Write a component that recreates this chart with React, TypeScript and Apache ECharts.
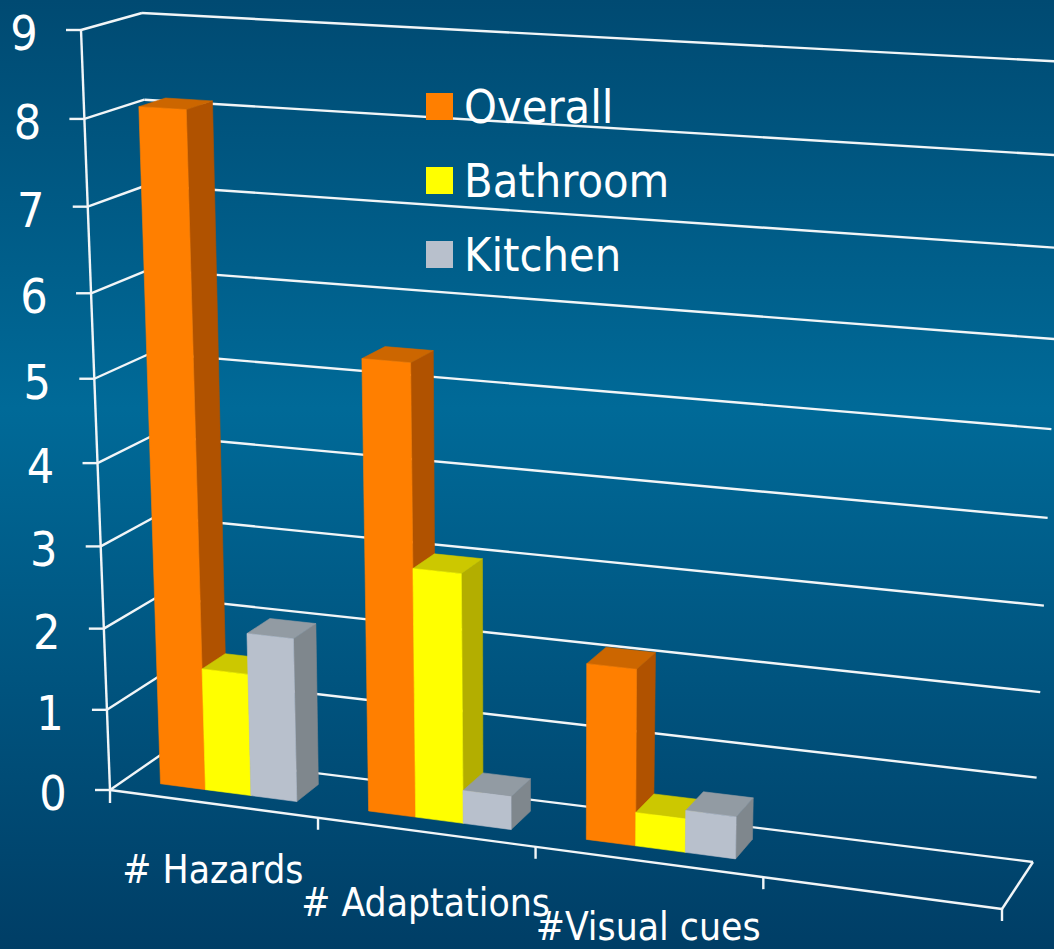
import React, { useEffect, useRef } from "react";
import * as echarts from "echarts";

// Chart content
const categories = ["# Hazards", "# Adaptations", "#Visual cues", ""];
const labelledCategories = [0, 1, 2];
const valueTicks = [0, 1, 2, 3, 4, 5, 6, 7, 8, 9];
const seriesNames = ["Overall", "Bathroom", "Kitchen"];
const overall = [8.1, 5.4, 2.1];
const bathroom = [1.5, 3.0, 0.4];
const kitchen = [2.0, 0.4, 0.5];

// Face shades per series: front, top, side
const orangeShades = ["#ff7f00", "#cc6600", "#b05200"];
const yellowShades = ["#ffff00", "#ccc800", "#b3ae00"];
const greyShades = ["#b8c0cc", "#929ba3", "#7f878d"];

const LINE = "#f1f5f7";
const FONT = '"DejaVu Sans Condensed", "Noto Sans", sans-serif';

// Camera box: eight corners of the plot volume on the page
const FRONT_BOTTOM_LEFT = [110, 790];
const FRONT_TOP_LEFT = [81, 30];
const BACK_BOTTOM_LEFT = [162, 754];
const BACK_TOP_LEFT = [142, 13];
const FRONT_BOTTOM_RIGHT = [1002, 909];
const FRONT_TOP_RIGHT = [1027, 82];
const BACK_BOTTOM_RIGHT = [1033, 862];
const BACK_TOP_RIGHT = [1067, 62];

// Foreshortening along the category and value directions
const X_FORESHORTEN = 0.096;
const Y_FORESHORTEN = 0.06;

// Bar layout inside a category band and inside the depth of the box
const BAR_START = 0.172;
const BAR_WIDTH = 0.22;
const BAR_FRONT = 0.3;
const BAR_BACK = 0.75;

// Vertical drop of each category name below the floor edge
const LABEL_DROPS = [66, 70, 65];

const foreshorten = (s: number, k: number) => s / (1 + k * (1 - s));
const mix = (a: number[], b: number[], t: number) => [
  a[0] + (b[0] - a[0]) * t,
  a[1] + (b[1] - a[1]) * t,
];

// Maps a flat grid position (fractions of the grid, value measured upward) and a depth to the page
function project(sx: number, sv: number, z: number) {
  const tx = foreshorten(sx, X_FORESHORTEN);
  const tv = foreshorten(sv, Y_FORESHORTEN);
  const left = mix(mix(FRONT_BOTTOM_LEFT, BACK_BOTTOM_LEFT, z), mix(FRONT_TOP_LEFT, BACK_TOP_LEFT, z), tv);
  const right = mix(mix(FRONT_BOTTOM_RIGHT, BACK_BOTTOM_RIGHT, z), mix(FRONT_TOP_RIGHT, BACK_TOP_RIGHT, z), tv);
  return mix(left, right, tx);
}

// Reads the flat position from the hidden cartesian axes
function flat(params: any, api: any, xUnits: number, value: number) {
  const cs = params.coordSys;
  const band = api.size([1, 0])[0];
  const p = api.coord([0, value]);
  const x0 = p[0] - band / 2;
  return [(x0 + band * xUnits - cs.x) / cs.width, (cs.y + cs.height - p[1]) / cs.height];
}

const segment = (a: number[], b: number[]) => ({
  type: "line",
  shape: { x1: a[0], y1: a[1], x2: b[0], y2: b[1] },
  style: { stroke: LINE, lineWidth: 2.4 },
  silent: true,
});

const face = (points: number[][], fill: string) => ({
  type: "polygon",
  shape: { points },
  style: { fill, stroke: fill, lineWidth: 0.6 },
  silent: true,
});

function barSeries(name: string, values: number[], index: number, shades: string[]) {
  return {
    type: "custom",
    name,
    coordinateSystem: "cartesian2d",
    itemStyle: { color: shades[0] },
    silent: true,
    data: values.map((v, i) => [i, v]),
    renderItem(params: any, api: any) {
      const cat = api.value(0);
      const start = cat + BAR_START + BAR_WIDTH * index;
      const [sx0, sv] = flat(params, api, start, api.value(1));
      const [sx1] = flat(params, api, start + BAR_WIDTH, 0);
      const fbl = project(sx0, 0, BAR_FRONT);
      const fbr = project(sx1, 0, BAR_FRONT);
      const ftl = project(sx0, sv, BAR_FRONT);
      const ftr = project(sx1, sv, BAR_FRONT);
      const btl = project(sx0, sv, BAR_BACK);
      const btr = project(sx1, sv, BAR_BACK);
      const bbr = project(sx1, 0, BAR_BACK);
      return {
        type: "group",
        children: [
          face([ftr, btr, bbr, fbr], shades[2]),
          face([ftl, btl, btr, ftr], shades[1]),
          face([fbl, fbr, ftr, ftl], shades[0]),
        ],
      };
    },
  };
}

// Gridlines running over the left wall and the back wall, with their ticks and labels
const gridSeries = {
  type: "custom",
  name: "grid",
  coordinateSystem: "cartesian2d",
  silent: true,
  data: valueTicks.map((v) => [0, v]),
  renderItem(params: any, api: any) {
    const v = api.value(1);
    const [, sv] = flat(params, api, 0, v);
    const front = project(0, sv, 0);
    const back = project(0, sv, 1);
    const end = project(1, sv, 1);
    return {
      type: "group",
      children: [
        segment([front[0] - 15, front[1]], front),
        segment(front, back),
        segment(back, end),
        {
          type: "text",
          silent: true,
          style: {
            text: String(v),
            x: front[0] - 57,
            y: front[1] + 3,
            fill: "#ffffff",
            font: `48px ${FONT}`,
            align: "center",
            verticalAlign: "middle",
          },
        },
      ],
    };
  },
};

// Floor outline and the vertical axis
const frameSeries = {
  type: "custom",
  name: "frame",
  coordinateSystem: "cartesian2d",
  silent: true,
  data: [[0, 0]],
  renderItem() {
    return {
      type: "group",
      children: [
        segment(project(0, 0, 0), project(0, 1, 0)),
        segment(project(0, 0, 0), project(1, 0, 0)),
        segment(project(1, 0, 0), project(1, 0, 1)),
        segment(project(0, 0, 0), [FRONT_BOTTOM_LEFT[0], FRONT_BOTTOM_LEFT[1] + 13]),
      ],
    };
  },
};

// Category ticks on the front floor edge, one at the right end of each band
const tickSeries = {
  type: "custom",
  name: "ticks",
  coordinateSystem: "cartesian2d",
  silent: true,
  data: categories.map((_, i) => [i, 0]),
  renderItem(params: any, api: any) {
    const [sx] = flat(params, api, api.value(0) + 1, 0);
    const p = project(sx, 0, 0);
    return segment(p, [p[0], p[1] + 12]);
  },
};

// Category names under the floor, centred on their bands
const categoryLabelSeries = {
  type: "custom",
  name: "categoryLabels",
  coordinateSystem: "cartesian2d",
  silent: true,
  data: labelledCategories.map((i) => [i, 0]),
  renderItem(params: any, api: any) {
    const i = api.value(0);
    const [sx] = flat(params, api, i + 0.5, 0);
    const p = project(sx, 0, 0);
    return {
      type: "text",
      silent: true,
      style: {
        text: categories[i],
        x: p[0],
        y: p[1] + LABEL_DROPS[i],
        fill: "#ffffff",
        font: `38.7px ${FONT}`,
        align: "center",
        verticalAlign: "middle",
      },
    };
  },
};

export default function App() {
  const ref = useRef<HTMLDivElement>(null);

  useEffect(() => {
    document.body.style.margin = "0";
    const chart = echarts.init(ref.current!, undefined, { renderer: "svg" });
    chart.setOption({
      animation: false,
      grid: { left: 0, top: 0, width: 1000, height: 900, show: false },
      xAxis: { type: "category", data: categories, show: false, boundaryGap: true },
      yAxis: { type: "value", min: 0, max: 9, interval: 1, show: false },
      legend: {
        data: seriesNames,
        orient: "vertical",
        left: 421,
        top: 78,
        icon: "rect",
        itemWidth: 27,
        itemHeight: 27,
        itemGap: 27,
        selectedMode: false,
        textStyle: { color: "#ffffff", fontSize: 46.5, fontFamily: FONT, lineHeight: 27, padding: [0, 0, 0, 6] },
      },
      series: [
        gridSeries,
        frameSeries,
        tickSeries,
        categoryLabelSeries,
        barSeries(seriesNames[0], overall, 0, orangeShades),
        barSeries(seriesNames[1], bathroom, 1, yellowShades),
        barSeries(seriesNames[2], kitchen, 2, greyShades),
      ],
    });
    return () => chart.dispose();
  }, []);

  return (
    <div
      ref={ref}
      style={{
        position: "absolute",
        left: 0,
        top: 0,
        width: 1054,
        height: 949,
        overflow: "hidden",
        background: "linear-gradient(180deg, #004a72 0%, #006a98 43%, #003e66 100%)",
      }}
    />
  );
}
